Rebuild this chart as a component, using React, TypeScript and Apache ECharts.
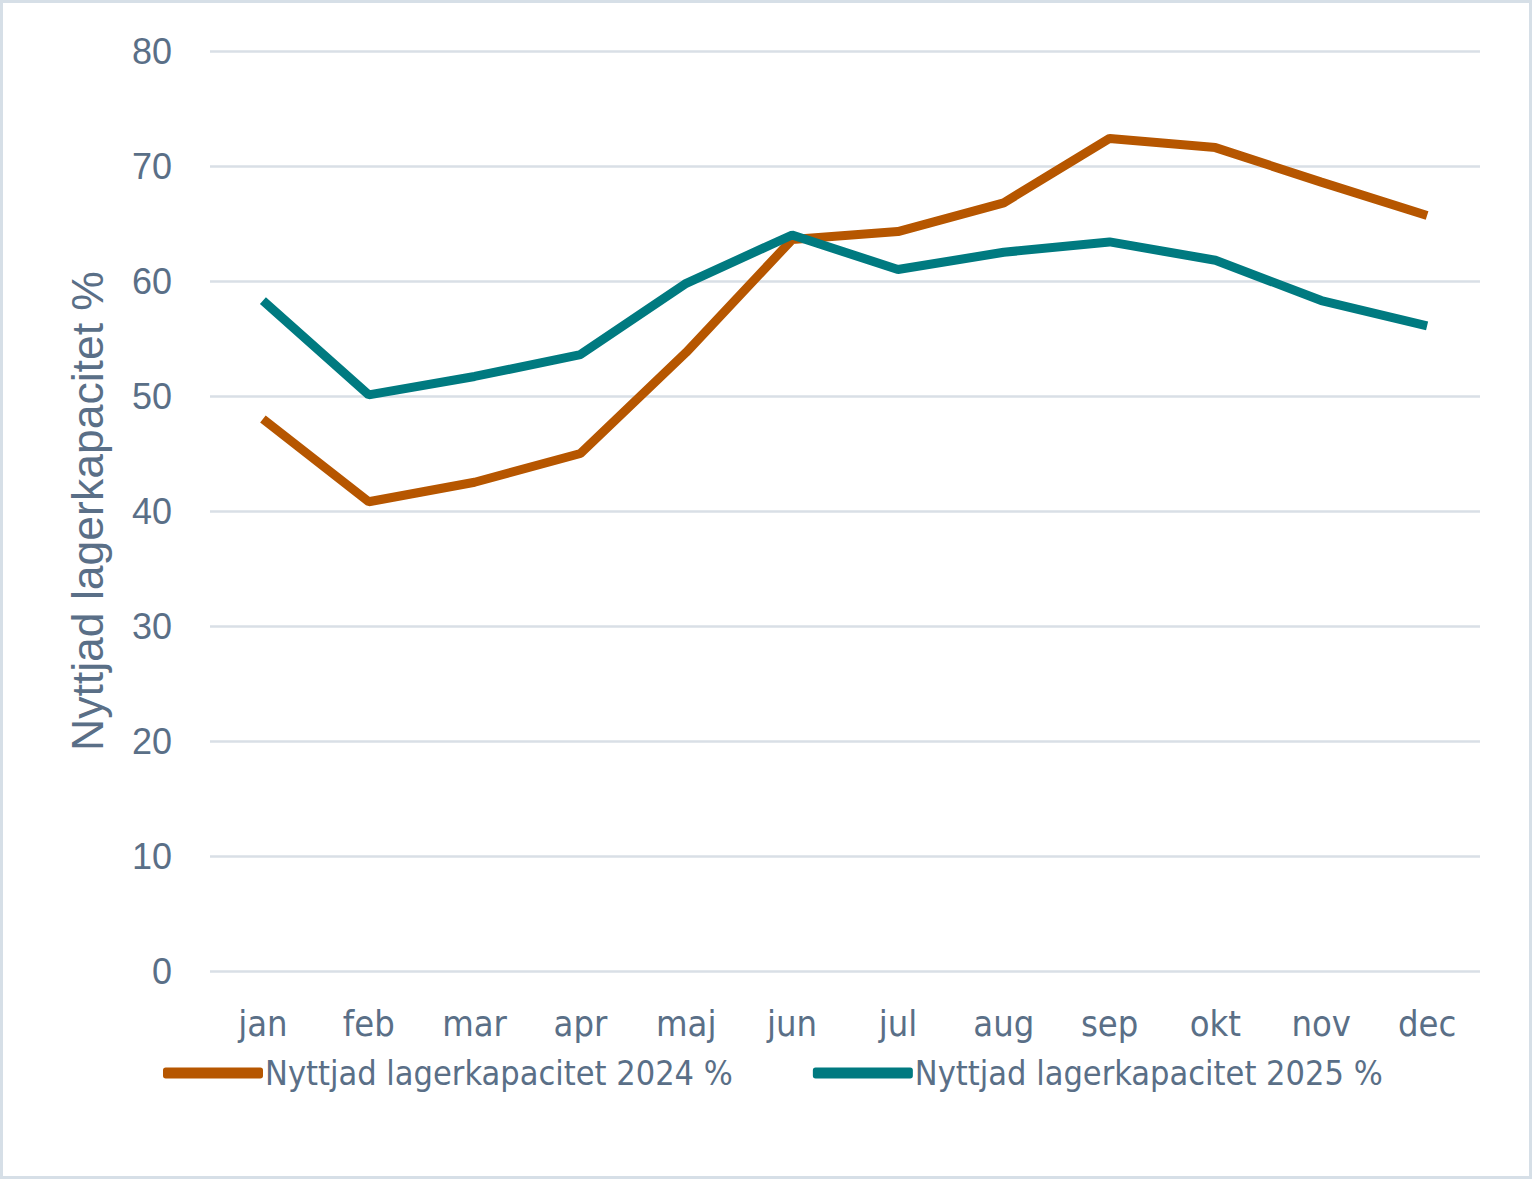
import React, { useEffect, useRef } from "react";
import * as echarts from "echarts";

const months = ["jan", "feb", "mar", "apr", "maj", "jun", "jul", "aug", "sep", "okt", "nov", "dec"];
const series2024 = [48.0, 40.8, 42.5, 45.0, 53.8, 63.6, 64.3, 66.8, 72.4, 71.6, 68.6, 65.7];
const series2025 = [58.3, 50.1, 51.7, 53.6, 59.8, 64.0, 61.0, 62.5, 63.4, 61.8, 58.3, 56.1];
const name2024 = "Nyttjad lagerkapacitet 2024 %";
const name2025 = "Nyttjad lagerkapacitet 2025 %";
const yAxisName = "Nyttjad lagerkapacitet %";

const TEXT = "#5A6F87";
const ORANGE = "#B65600";
const TEAL = "#007A80";
const NARROW = "'Liberation Sans Narrow', 'DejaVu Sans Condensed', 'Roboto Condensed', sans-serif";
const REG = "'Liberation Sans', Arial, sans-serif";

export default function App() {
  const ref = useRef<HTMLDivElement>(null);
  useEffect(() => {
    document.body.style.margin = "0";
    const chart = echarts.init(ref.current!, null, { renderer: "svg" });
    chart.setOption({
      animation: false,
      backgroundColor: "#ffffff",
      graphic: [
        {
          type: "rect",
          shape: { x: 1.5, y: 1.5, width: 1529, height: 1176 },
          style: { fill: "none", stroke: "#D6DFE7", lineWidth: 3 },
          silent: true,
        },
      ],
      grid: { left: 210, right: 52, top: 51, bottom: 208 },
      legend: {
        left: 158,
        top: 1051,
        itemWidth: 100,
        itemHeight: 11,
        itemGap: 80,
        icon: "roundRect",
        textStyle: { color: TEXT, fontSize: 34, fontFamily: NARROW, padding: [0, 0, 0, -3] },
        data: [name2024, name2025],
      },
      xAxis: {
        type: "category",
        data: months,
        boundaryGap: true,
        axisLine: { show: false },
        axisTick: { show: false },
        axisLabel: { color: TEXT, fontSize: 36, fontFamily: NARROW, margin: 34 },
      },
      yAxis: {
        type: "value",
        min: 0,
        max: 80,
        interval: 10,
        name: yAxisName,
        nameLocation: "middle",
        nameGap: 100,
        nameTextStyle: { color: TEXT, fontSize: 44.5, fontFamily: REG },
        axisLine: { show: false },
        axisTick: { show: false },
        axisLabel: { color: TEXT, fontSize: 36, fontFamily: REG, margin: 38 },
        splitLine: { lineStyle: { color: "#D9DFE6", width: 2.5 } },
      },
      series: [
        {
          name: name2024,
          type: "line",
          data: series2024,
          symbol: "none",
          itemStyle: { color: ORANGE },
          lineStyle: { color: ORANGE, width: 9 },
        },
        {
          name: name2025,
          type: "line",
          data: series2025,
          symbol: "none",
          itemStyle: { color: TEAL },
          lineStyle: { color: TEAL, width: 9 },
        },
      ],
    });
    return () => chart.dispose();
  }, []);
  return <div ref={ref} style={{ width: 1532, height: 1179 }} />;
}
